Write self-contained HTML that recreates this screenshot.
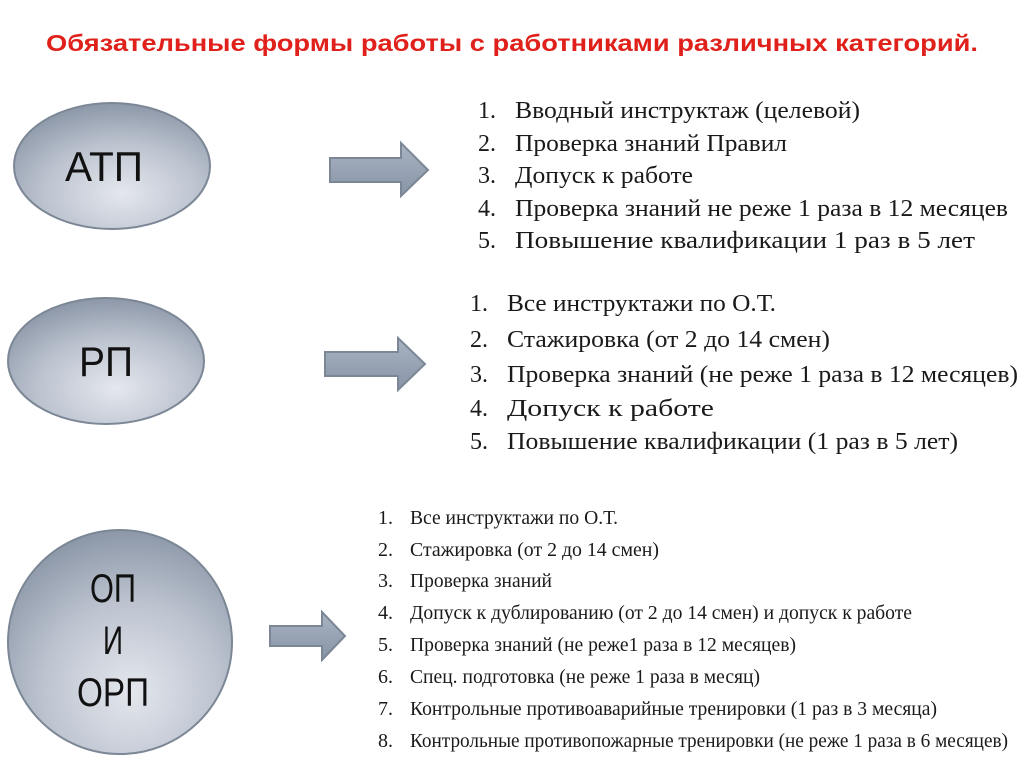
<!DOCTYPE html>
<html><head><meta charset="utf-8"><style>
html,body{margin:0;padding:0;background:#fff;}
svg{display:block;}
</style></head><body>
<svg width="1024" height="767" viewBox="0 0 1024 767" xmlns="http://www.w3.org/2000/svg">
<defs>
<radialGradient id="g" cx="0.55" cy="0.72" r="0.8">
<stop offset="0" stop-color="#e4e7ed"/>
<stop offset="0.5" stop-color="#bcc3cf"/>
<stop offset="1" stop-color="#808c9e"/>
</radialGradient>
<linearGradient id="a" x1="0" y1="0" x2="0" y2="1">
<stop offset="0" stop-color="#a9b4c3"/>
<stop offset="1" stop-color="#8794a6"/>
</linearGradient>
</defs>
<rect width="1024" height="767" fill="#fff"/>
<text x="512" y="51" text-anchor="middle" font-family="Liberation Sans, sans-serif" font-weight="bold" font-size="23" fill="#e0201b" textLength="932" lengthAdjust="spacingAndGlyphs">Обязательные формы работы с работниками различных категорий.</text>

<ellipse cx="112" cy="166" rx="98" ry="63" fill="url(#g)" stroke="#7c8796" stroke-width="2"/>
<text x="104" y="181" text-anchor="middle" font-family="Liberation Sans, sans-serif" font-size="42" fill="#111" textLength="78" lengthAdjust="spacingAndGlyphs">АТП</text>
<ellipse cx="106" cy="361" rx="98" ry="63" fill="url(#g)" stroke="#7c8796" stroke-width="2"/>
<text x="106" y="376" text-anchor="middle" font-family="Liberation Sans, sans-serif" font-size="42" fill="#111" textLength="54" lengthAdjust="spacingAndGlyphs">РП</text>
<circle cx="120" cy="642" r="112" fill="url(#g)" stroke="#7c8796" stroke-width="2"/>
<g font-family="Liberation Sans, sans-serif" font-size="40" fill="#111" text-anchor="middle">
<text x="113" y="602" textLength="46" lengthAdjust="spacingAndGlyphs">ОП</text><text x="113" y="654" textLength="20" lengthAdjust="spacingAndGlyphs">И</text><text x="113" y="706" textLength="72" lengthAdjust="spacingAndGlyphs">ОРП</text></g>

<polygon points="330,158 401,158 401,143 428,170 401,196 401,182 330,182" fill="url(#a)" stroke="#7c8796" stroke-width="2"/>
<polygon points="325,352 398,352 398,338 425,364 398,390 398,376 325,376" fill="url(#a)" stroke="#7c8796" stroke-width="2"/>
<polygon points="270,626 322,626 322,612 345,636 322,660 322,646 270,646" fill="url(#a)" stroke="#7c8796" stroke-width="2"/>

<g font-family="Liberation Serif, serif" font-size="24" fill="#1a1a1a">
<text x="478" y="118">1.</text><text x="515" y="118" textLength="345" lengthAdjust="spacingAndGlyphs">Вводный инструктаж (целевой)</text>
<text x="478" y="151">2.</text><text x="515" y="151" textLength="272" lengthAdjust="spacingAndGlyphs">Проверка знаний Правил</text>
<text x="478" y="183">3.</text><text x="515" y="183" textLength="178" lengthAdjust="spacingAndGlyphs">Допуск к работе</text>
<text x="478" y="216">4.</text><text x="515" y="216" textLength="493" lengthAdjust="spacingAndGlyphs">Проверка знаний не реже 1 раза в 12 месяцев</text>
<text x="478" y="248">5.</text><text x="515" y="248" textLength="460" lengthAdjust="spacingAndGlyphs">Повышение квалификации 1 раз в 5 лет</text>
</g>
<g font-family="Liberation Serif, serif" font-size="24" fill="#1a1a1a">
<text x="470" y="311">1.</text><text x="507" y="311" textLength="269" lengthAdjust="spacingAndGlyphs">Все инструктажи по О.Т.</text>
<text x="470" y="347">2.</text><text x="507" y="347" textLength="323" lengthAdjust="spacingAndGlyphs">Стажировка (от 2 до 14 смен)</text>
<text x="470" y="382">3.</text><text x="507" y="382" textLength="511" lengthAdjust="spacingAndGlyphs">Проверка знаний (не реже 1 раза в 12 месяцев)</text>
<text x="470" y="416">4.</text><text x="507" y="416" textLength="207" lengthAdjust="spacingAndGlyphs">Допуск к работе</text>
<text x="470" y="449">5.</text><text x="507" y="449" textLength="451" lengthAdjust="spacingAndGlyphs">Повышение квалификации (1 раз в 5 лет)</text>
</g>
<g font-family="Liberation Serif, serif" font-size="20" fill="#1a1a1a">
<text x="378" y="524">1.</text><text x="410" y="524" textLength="208" lengthAdjust="spacingAndGlyphs">Все инструктажи по О.Т.</text>
<text x="378" y="556">2.</text><text x="410" y="556" textLength="249" lengthAdjust="spacingAndGlyphs">Стажировка (от 2 до 14 смен)</text>
<text x="378" y="587">3.</text><text x="410" y="587" textLength="142" lengthAdjust="spacingAndGlyphs">Проверка знаний</text>
<text x="378" y="619">4.</text><text x="410" y="619" textLength="502" lengthAdjust="spacingAndGlyphs">Допуск к дублированию (от 2 до 14 смен) и допуск к работе</text>
<text x="378" y="651">5.</text><text x="410" y="651" textLength="386" lengthAdjust="spacingAndGlyphs">Проверка знаний (не реже1 раза в 12 месяцев)</text>
<text x="378" y="683">6.</text><text x="410" y="683" textLength="350" lengthAdjust="spacingAndGlyphs">Спец. подготовка (не реже 1 раза в месяц)</text>
<text x="378" y="715">7.</text><text x="410" y="715" textLength="527" lengthAdjust="spacingAndGlyphs">Контрольные противоаварийные тренировки (1 раз в 3 месяца)</text>
<text x="378" y="747">8.</text><text x="410" y="747" textLength="598" lengthAdjust="spacingAndGlyphs">Контрольные противопожарные тренировки (не реже 1 раза в 6 месяцев)</text>
</g>
</svg>
</body></html>
